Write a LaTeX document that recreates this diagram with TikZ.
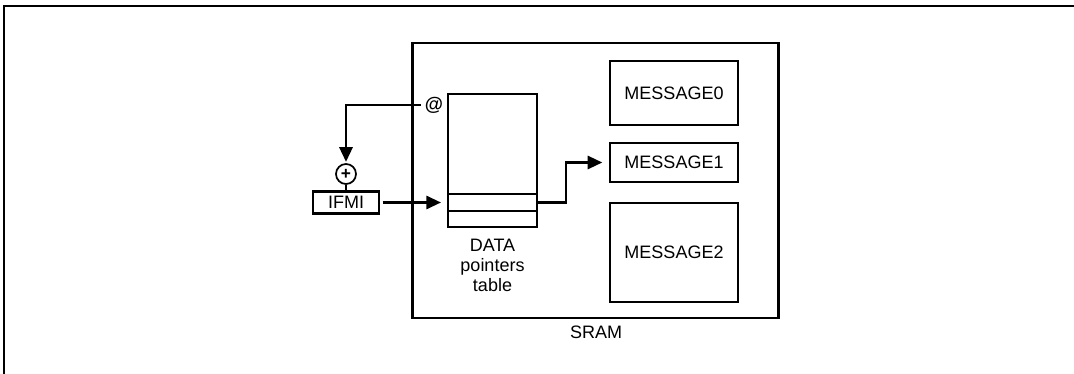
\documentclass[tikz,border=0pt]{standalone}
\usepackage{fontspec}
\setmainfont{Liberation Sans}
\usetikzlibrary{arrows.meta,positioning}

\begin{document}
\begin{tikzpicture}[
            x=0.75pt, y=-0.75pt,
            font=\fontsize{13.5}{15}\selectfont,
            caja/.style={draw, line width=1.6pt, inner sep=0pt},
            mensaje/.style={caja, minimum width=96pt},
            tabla/.style={caja, minimum width=66.75pt},
            etiqueta/.style={inner sep=1pt, align=center},
            flecha/.style={-{Triangle[length=11pt,width=10pt]}, line width=1.6pt}
        ]
\useasboundingbox (0,0) rectangle (1074,374);
\draw[line width=2pt] (4,374) -- (4,6) -- (1074,6);

\node[caja, line width=2pt, minimum width=274.5pt, minimum height=206.25pt] (sram) at (595.5,180.5) {};
\node[etiqueta] (sramlbl) at (596,332) {SRAM};

\node[tabla, minimum height=99.75pt] (tbl) at (492.5,160.5) {};
\node[tabla, minimum height=12.75pt] (entrada) at (492.5,202.5) {};
\node[etiqueta] (tbllbl) at (492.5,265) {DATA\\pointers\\table};

\node[mensaje, minimum height=48pt] (msg0) at (674,93) {MESSAGE0};
\node[mensaje, minimum height=29.25pt] (msg1) at (674,162.5) {MESSAGE1};
\node[mensaje, minimum height=74.25pt] (msg2) at (674,252.5) {MESSAGE2};

\node[etiqueta, font=\fontsize{14}{15}\selectfont\bfseries] (arroba) at (434,105) {@};
\node[caja, circle, line width=1.3pt, minimum size=15pt, font=\fontsize{13}{13}\selectfont\bfseries] (suma) at (346,174) {+};
\node[caja, minimum width=49.5pt, minimum height=16.5pt] (ifmi) at (346,202.5) {IFMI};

\draw[flecha, shorten <=2pt, shorten >=1pt] (arroba.west) -| (suma.north);
\draw[line width=1.6pt] (suma.south) -- (ifmi.north);
\draw[flecha, shorten <=2pt, shorten >=4.5pt] (ifmi.east) -- (entrada.west);
\draw[flecha, shorten >=5pt] (entrada.east) -- ++(28,0) |- (msg1.west);
        \end{tikzpicture}
\end{document}
